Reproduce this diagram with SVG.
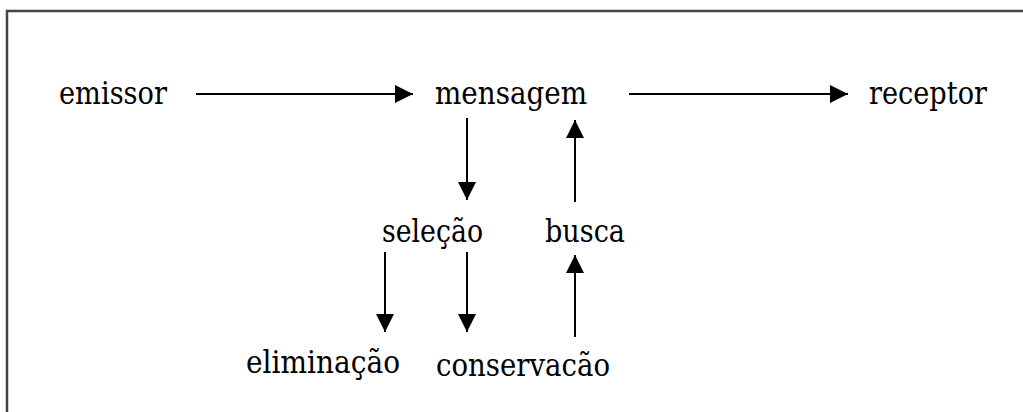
<svg xmlns="http://www.w3.org/2000/svg" width="1023" height="412" viewBox="0 0 1023 412">
  <style>
    .lbl { font-family: "DejaVu Serif", "Liberation Serif", serif; font-size: 32px; fill: #000; }
    .conn line { stroke: #000; stroke-width: 2; marker-end: url(#arrow); }
    .frame { stroke: #444; stroke-width: 2.5; fill: none; }
  </style>
  <defs>
    <marker id="arrow" markerUnits="userSpaceOnUse" markerWidth="18" markerHeight="18" refX="18" refY="9" orient="auto">
      <path d="M0,0 L18,9 L0,18 z" fill="#000"/>
    </marker>
  </defs>
  <rect width="1023" height="412" fill="#fff"/>
  <path class="frame" d="M7,412 L7,11 L1023,11"/>
  <g id="emissor"><text class="lbl" x="59" y="104" textLength="108" lengthAdjust="spacingAndGlyphs">emissor</text></g>
  <g id="mensagem"><text class="lbl" x="435" y="104" textLength="152" lengthAdjust="spacingAndGlyphs">mensagem</text></g>
  <g id="receptor"><text class="lbl" x="869" y="104" textLength="118" lengthAdjust="spacingAndGlyphs">receptor</text></g>
  <g id="selecao"><text class="lbl" x="382" y="242" textLength="101" lengthAdjust="spacingAndGlyphs">seleção</text></g>
  <g id="busca"><text class="lbl" x="545" y="242" textLength="80" lengthAdjust="spacingAndGlyphs">busca</text></g>
  <g id="eliminacao"><text class="lbl" x="246" y="373" textLength="154" lengthAdjust="spacingAndGlyphs">eliminação</text></g>
  <g id="conservacao"><text class="lbl" x="436" y="376" textLength="174" lengthAdjust="spacingAndGlyphs">conservacão</text></g>
  <g id="connectors" class="conn">
    <line x1="196" y1="94" x2="413" y2="94"/>
    <line x1="629" y1="94" x2="848" y2="94"/>
    <line x1="467" y1="118" x2="467" y2="200"/>
    <line x1="575" y1="202" x2="575" y2="120"/>
    <line x1="385" y1="252" x2="385" y2="332"/>
    <line x1="467" y1="252" x2="467" y2="332"/>
    <line x1="575" y1="337" x2="575" y2="255"/>
  </g>
</svg>
